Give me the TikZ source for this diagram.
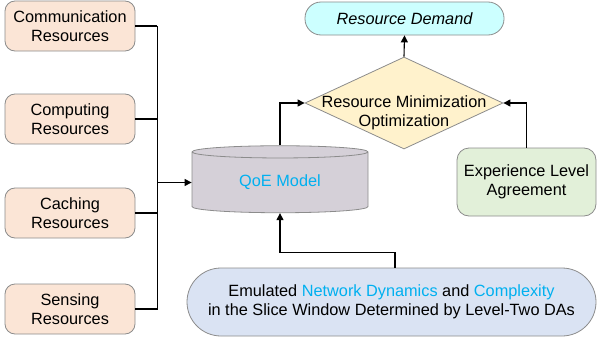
\documentclass[tikz,border=0pt]{standalone}
\usepackage{fontspec}
\setmainfont{Liberation Sans}
\usetikzlibrary{arrows.meta, positioning, shapes.geometric}
\definecolor{respeach}{RGB}{251,229,214}
\definecolor{optyellow}{RGB}{255,242,204}
\definecolor{demcyan}{RGB}{204,255,255}
\definecolor{elagreen}{RGB}{226,240,217}
\definecolor{emublue}{RGB}{218,227,243}
\definecolor{qoegray}{RGB}{213,208,216}
\definecolor{textcyan}{RGB}{0,176,240}
\definecolor{bordergray}{RGB}{140,140,140}

\tikzset{
    basefont/.style={font=\fontsize{16.3}{19.5}\selectfont},
    resbox/.style={basefont, draw=bordergray, line width=0.8pt, fill=respeach, rounded corners=10pt,
        minimum width=130pt, minimum height=50pt, align=center, inner sep=0pt},
    conn/.style={line width=1.1pt, -{Triangle[length=7pt,width=7pt]}},
    plain/.style={line width=1.1pt}
}

\begin{document}
\begin{tikzpicture}[x=1pt, y=1pt]
    \useasboundingbox (0,0) rectangle (597,341);

    % Resource boxes
    \node[resbox] (comm) at (70,315) {Communication\\Resources};
    \node[resbox] (comp) at (70,222) {Computing\\Resources};
    \node[resbox] (cach) at (70,128) {Caching\\Resources};
    \node[resbox] (sens) at (70,32) {Sensing\\Resources};

    % QoE model
    \node[basefont, cylinder, shape border rotate=90, aspect=0.15, draw=bordergray, line width=0.8pt,
        fill=qoegray, minimum width=176pt, minimum height=67pt, inner sep=0pt,
        text=textcyan] (qoe) at (280,158.5) {QoE Model};

    % Optimization
    \node[diamond, draw=bordergray, line width=0.8pt, fill=optyellow, minimum width=198pt,
        minimum height=92pt, inner sep=0pt,
        label={[basefont, align=center, yshift=-10pt]center:Resource Minimization\\Optimization}] (opt) at (404,238) {};

    % Output and agreement
    \node[basefont, draw=bordergray, line width=0.8pt, fill=demcyan, rounded corners=16pt,
        minimum width=199pt, minimum height=33pt, inner sep=0pt] (dem) at (404.5,322.5) {\itshape Resource Demand};
    \node[basefont, draw=bordergray, line width=0.8pt, fill=elagreen, rounded corners=12pt,
        minimum width=139pt, minimum height=68pt, inner sep=0pt, align=center] (ela) at (526.5,159) {Experience Level\\Agreement};

    % Emulated dynamics
    \node[basefont, draw=bordergray, line width=0.8pt, fill=emublue, rounded corners=34pt,
        minimum width=409pt, minimum height=68pt, inner sep=0pt, align=center] (emu) at (391.5,39)
        {Emulated \textcolor{textcyan}{Network Dynamics} and \textcolor{textcyan}{Complexity}\\in the Slice Window Determined by Level-Two DAs};

    % Bus
    \draw[plain] (comm.east) -- ++(22,0) coordinate (bus);
    \draw[plain] (bus) -- (bus |- sens.east) -- (sens.east);
    \draw[plain] (comp.east) -- (bus |- comp.east);
    \draw[plain] (cach.east) -- (bus |- cach.east);
    \draw[conn] (bus |- qoe.west) -- (qoe.west);

    % Arrows
    \draw[conn] (qoe.top) |- (opt.west);
    \draw[conn] (ela.north) |- (opt.east);
    \draw[conn] (opt.north) -- (dem.south);
    \draw[conn] ([xshift=3.5pt]emu.north) -- ++(0,15) -| (qoe.bottom);
\end{tikzpicture}
\end{document}
